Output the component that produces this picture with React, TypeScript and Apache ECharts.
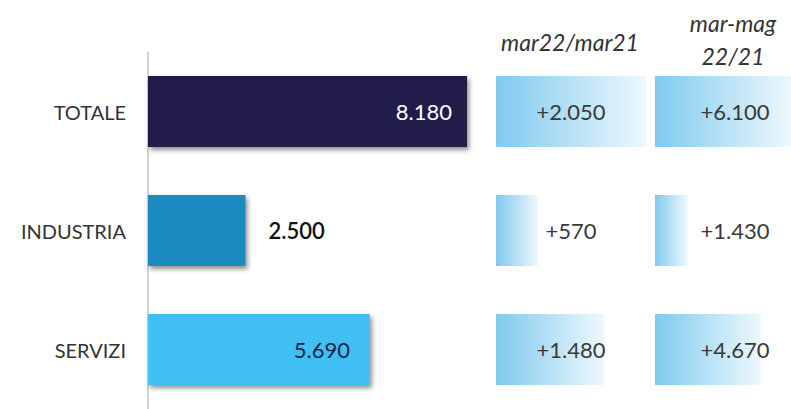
import React, { useEffect, useRef } from "react";
import * as echarts from "echarts";

const categories = ["TOTALE", "INDUSTRIA", "SERVIZI"];
const values = [8180, 2500, 5690];
const deltaMar = [2050, 570, 1480];
const deltaMarMag = [6100, 1430, 4670];
const headerMar = "mar22/mar21";
const headerMarMag = "mar-mag\n22/21";

const barColors = ["#201a4b", "#1a8bc2", "#41bff5"];
const labelColors = ["#ffffff", "#111111", "#14243f"];
const labelInside = [true, false, true];

const fmt = (v: number) => String(Math.round(v)).replace(/\B(?=(\d{3})+(?!\d))/g, ".");
const FONT = "Lato, 'Open Sans', sans-serif";

export default function App() {
  const ref = useRef<HTMLDivElement>(null);
  useEffect(() => {
    document.body.style.margin = "0";
    const chart = echarts.init(ref.current!, undefined, { renderer: "svg" });
    const grad = () =>
      new echarts.graphic.LinearGradient(0, 0, 1, 0, [
        { offset: 0, color: "#80caee" },
        { offset: 1, color: "#eef8fd" },
      ]);
    const gridTop = 52;
    const gridH = 360;
    const bw = 71;
    chart.setOption({
      animation: false,
      backgroundColor: "#ffffff",
      grid: [
        { left: 148, top: gridTop, width: 390, height: gridH },
        { left: 496, top: gridTop, width: 220, height: gridH },
        { left: 655, top: gridTop, width: 156, height: gridH },
      ],
      xAxis: [
        { gridIndex: 0, type: "value", min: 0, max: 10000, show: false },
        { gridIndex: 1, type: "value", min: 0, max: 3000, show: false },
        { gridIndex: 2, type: "value", min: 0, max: 6000, show: false },
      ],
      yAxis: [
        {
          gridIndex: 0,
          type: "category",
          data: categories,
          inverse: true,
          axisLine: { show: true, lineStyle: { color: "#c4c4c4", width: 1.5 } },
          axisTick: { show: false },
          axisLabel: { margin: 22, color: "#333333", fontSize: 20, fontFamily: FONT },
        },
        { gridIndex: 1, type: "category", data: categories, inverse: true, show: false },
        { gridIndex: 2, type: "category", data: categories, inverse: true, show: false },
      ],
      series: [
        {
          type: "bar",
          xAxisIndex: 0,
          yAxisIndex: 0,
          barWidth: bw,
          data: values.map((v, i) => ({
            value: v,
            itemStyle: {
              color: barColors[i],
              shadowColor: "rgba(0,0,0,0.45)",
              shadowBlur: 5,
              shadowOffsetX: 2,
              shadowOffsetY: 3,
            },
            label: {
              show: true,
              position: labelInside[i] ? "insideRight" : "right",
              distance: labelInside[i] ? (i === 0 ? 15 : 20) : 23,
              color: labelColors[i],
              fontSize: 22,
              fontWeight: i === 1 ? 600 : 400,
              fontFamily: FONT,
              formatter: (p: any) => fmt(p.value),
            },
          })),
        },
        {
          type: "bar",
          xAxisIndex: 1,
          yAxisIndex: 1,
          barWidth: bw,
          data: deltaMar.map((v) => ({ value: v, itemStyle: { color: grad() } })),
          label: {
            show: true,
            position: [75, "50%"],
            align: "center",
            verticalAlign: "middle",
            color: "#3a3a3a",
            fontSize: 22,
            fontFamily: FONT,
            formatter: (p: any) => "+" + fmt(p.value),
          },
        },
        {
          type: "bar",
          xAxisIndex: 2,
          yAxisIndex: 2,
          barWidth: bw,
          data: deltaMarMag.map((v) => ({ value: v, itemStyle: { color: grad() } })),
          label: {
            show: true,
            position: [80, "50%"],
            align: "center",
            verticalAlign: "middle",
            color: "#3a3a3a",
            fontSize: 22,
            fontFamily: FONT,
            formatter: (p: any) => "+" + fmt(p.value),
          },
        },
      ],
      graphic: [
        {
          type: "text",
          x: 570,
          y: 42,
          style: {
            text: headerMar,
            fill: "#333333",
            font: `italic 23px ${FONT}`,
            align: "center",
            verticalAlign: "middle",
          },
        },
        {
          type: "text",
          x: 733,
          y: 39,
          style: {
            text: headerMarMag,
            fill: "#333333",
            font: `italic 23px ${FONT}`,
            align: "center",
            verticalAlign: "middle",
            lineHeight: 33,
          },
        },
      ],
    });
    return () => chart.dispose();
  }, []);
  return <div ref={ref} style={{ width: 791, height: 409 }} />;
}
